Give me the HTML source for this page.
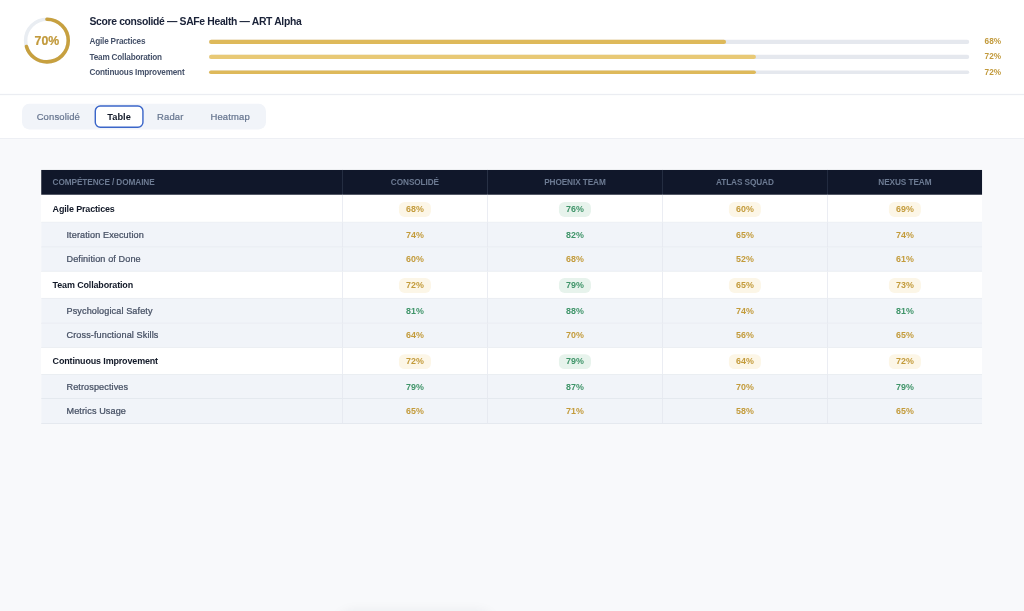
<!DOCTYPE html>
<html lang="fr">
<head>
<meta charset="utf-8">
<title>Score consolidé — SAFe Health — ART Alpha</title>
<style>
*{box-sizing:border-box;margin:0;padding:0}
html,body{width:1024px;height:611px;overflow:hidden;background:#f8f9fb}
body{font-family:"Liberation Sans",sans-serif;color:#1a2238}
#app{position:absolute;left:0;top:0;width:1440px;height:860px;transform:scale(0.711111);transform-origin:0 0;background:#f8f9fb}
.hdr{position:absolute;left:0;top:0;width:1440px;height:132.2px;background:#fff}
.ln{position:absolute;left:0;width:1440px;height:1.41px}
.ring{position:absolute;left:31.1px;top:22.4px;width:70px;height:70px}
.ring text{font-family:"Liberation Sans",sans-serif;font-weight:700;font-size:17.3px;fill:#c29a3c;stroke:#c29a3c;stroke-width:.35px}
.ttl{position:absolute;left:125.8px;top:20px;font-size:14.6px;letter-spacing:-.48px;font-weight:700;line-height:20px;white-space:nowrap;color:#1a2238}
.row{position:absolute;left:125.8px;width:1283px;height:16px}
.row .lb{position:absolute;left:0;top:-.4px;font-size:11.5px;letter-spacing:-.26px;line-height:16px;font-weight:700;color:#46526a;white-space:nowrap}
.row .tr{position:absolute;left:168px;top:5.3px;width:1069px;height:5.5px;border-radius:3px;background:#e5e8ee}
.row .fl{position:absolute;left:0;top:0;height:5.5px;border-radius:3px;background:#deb95a}
.row .pc{position:absolute;right:1px;top:-1px;font-size:11.6px;line-height:16px;font-weight:700;color:#c29a3c;white-space:nowrap}
.tabs{position:absolute;left:0;top:133.6px;width:1440px;height:60.47px;background:#fff}
.seg{position:absolute;left:31px;top:12.4px;width:342.8px;height:36.2px;border-radius:10px;background:#f1f4f9}
.tab{position:absolute;top:0;height:36.2px;line-height:37.9px;font-size:13.3px;letter-spacing:.2px;color:#66758f;-webkit-text-stroke:.3px #66758f;text-align:center;white-space:nowrap}
.tab.on{top:1.8px;height:31.9px;line-height:29.6px;border:2px solid #3b66c9;border-radius:8px;background:#fff;color:#111827;font-weight:700;font-size:13px;letter-spacing:0;-webkit-text-stroke:0}
table{position:absolute;left:58px;top:239px;width:1323px;border-collapse:separate;border-spacing:0;table-layout:fixed;background:#fff}
th{height:35px;padding-bottom:1.6px;color:#6c7a92;background:#10172a;font-size:11.6px;font-weight:700;letter-spacing:-.14px;text-align:center;border-left:1px solid #2a3348}
th:first-child{text-align:left;padding-left:16px;border-left:0}
td{text-align:center;font-size:12.5px;font-weight:700;border-left:1px solid #e3e6ee;border-bottom:1px solid #dfe3ea}
td:first-child{text-align:left;border-left:0}
tr.d td{height:38px;background:#fff}
tr.d td:first-child{padding-left:16px;padding-top:1.3px;font-size:12.6px;letter-spacing:-.2px;color:#111827}
tbody tr:first-child td{height:39px;padding-top:1.2px}
tr.s.t td{height:35px}
tbody tr:last-child td:first-child{padding-bottom:1.2px}
tr.s td{height:34px;background:#f1f4f9}
tr.s td:first-child{padding-left:35.5px;font-size:12.8px;letter-spacing:.15px;font-weight:400;-webkit-text-stroke:.35px #465064;color:#465064}
.g{color:#c39b3b}.v{color:#3f9469}
.b{display:inline-block;position:relative;top:1.1px;width:45.5px;height:21.2px;line-height:21px;border-radius:8px}
.b.g{background:#fcf6e7}.b.v{background:#e7f3ec}
.shadow{position:absolute;left:482px;top:868px;width:204px;height:40px;border-radius:12px;background:#e6e8ee;box-shadow:0 0 20px 6px rgba(30,41,59,.085)}
</style>
</head>
<body>
<div id="app">
  <div class="hdr">
    <svg class="ring" viewBox="0 0 70 70">
      <circle cx="35" cy="35" r="30" fill="none" stroke="#e9edf2" stroke-width="5"/>
      <circle cx="35" cy="35" r="30" fill="none" stroke="#c7a03f" stroke-width="5" stroke-linecap="round" stroke-dasharray="131.95 188.5" transform="rotate(-90 35 35)"/>
      <text x="35" y="41" text-anchor="middle">70%</text>
    </svg>
    <div class="ttl">Score consolidé — SAFe Health — ART Alpha</div>
    <div class="row" style="top:50.8px"><span class="lb">Agile Practices</span><div class="tr"><div class="fl" style="width:68%"></div></div><span class="pc">68%</span></div>
    <div class="row" style="top:72.2px"><span class="lb">Team Collaboration</span><div class="tr"><div class="fl" style="width:72%;background:#e8c976"></div></div><span class="pc">72%</span></div>
    <div class="row" style="top:93.5px"><span class="lb">Continuous Improvement</span><div class="tr"><div class="fl" style="width:72%"></div></div><span class="pc">72%</span></div>
  </div>
  <div class="ln" style="top:132.2px;background:#ebedf2"></div>
  <div class="ln" style="top:194.07px;background:#e8ebf0"></div>
  <div class="tabs">
    <div class="seg">
      <div class="tab" style="left:4px;width:94px">Consolidé</div>
      <div class="tab on" style="left:101.7px;width:69.6px">Table</div>
      <div class="tab" style="left:175px;width:67px">Radar</div>
      <div class="tab" style="left:246.2px;width:93px">Heatmap</div>
    </div>
  </div>
  <table>
    <colgroup><col style="width:423px"><col style="width:204px"><col style="width:246px"><col style="width:232px"><col style="width:218px"></colgroup>
    <thead><tr><th>COMPÉTENCE / DOMAINE</th><th>CONSOLIDÉ</th><th>PHOENIX TEAM</th><th>ATLAS SQUAD</th><th>NEXUS TEAM</th></tr></thead>
    <tbody>
      <tr class="d"><td>Agile Practices</td><td><span class="b g">68%</span></td><td><span class="b v">76%</span></td><td><span class="b g">60%</span></td><td><span class="b g">69%</span></td></tr>
      <tr class="s t"><td>Iteration Execution</td><td class="g">74%</td><td class="v">82%</td><td class="g">65%</td><td class="g">74%</td></tr>
      <tr class="s"><td>Definition of Done</td><td class="g">60%</td><td class="g">68%</td><td class="g">52%</td><td class="g">61%</td></tr>
      <tr class="d"><td>Team Collaboration</td><td><span class="b g">72%</span></td><td><span class="b v">79%</span></td><td><span class="b g">65%</span></td><td><span class="b g">73%</span></td></tr>
      <tr class="s t"><td>Psychological Safety</td><td class="v">81%</td><td class="v">88%</td><td class="g">74%</td><td class="v">81%</td></tr>
      <tr class="s"><td>Cross-functional Skills</td><td class="g">64%</td><td class="g">70%</td><td class="g">56%</td><td class="g">65%</td></tr>
      <tr class="d"><td>Continuous Improvement</td><td><span class="b g">72%</span></td><td><span class="b v">79%</span></td><td><span class="b g">64%</span></td><td><span class="b g">72%</span></td></tr>
      <tr class="s"><td>Retrospectives</td><td class="v">79%</td><td class="v">87%</td><td class="g">70%</td><td class="v">79%</td></tr>
      <tr class="s t"><td>Metrics Usage</td><td class="g">65%</td><td class="g">71%</td><td class="g">58%</td><td class="g">65%</td></tr>
    </tbody>
  </table>
  <div class="shadow"></div>
</div>
</body>
</html>
